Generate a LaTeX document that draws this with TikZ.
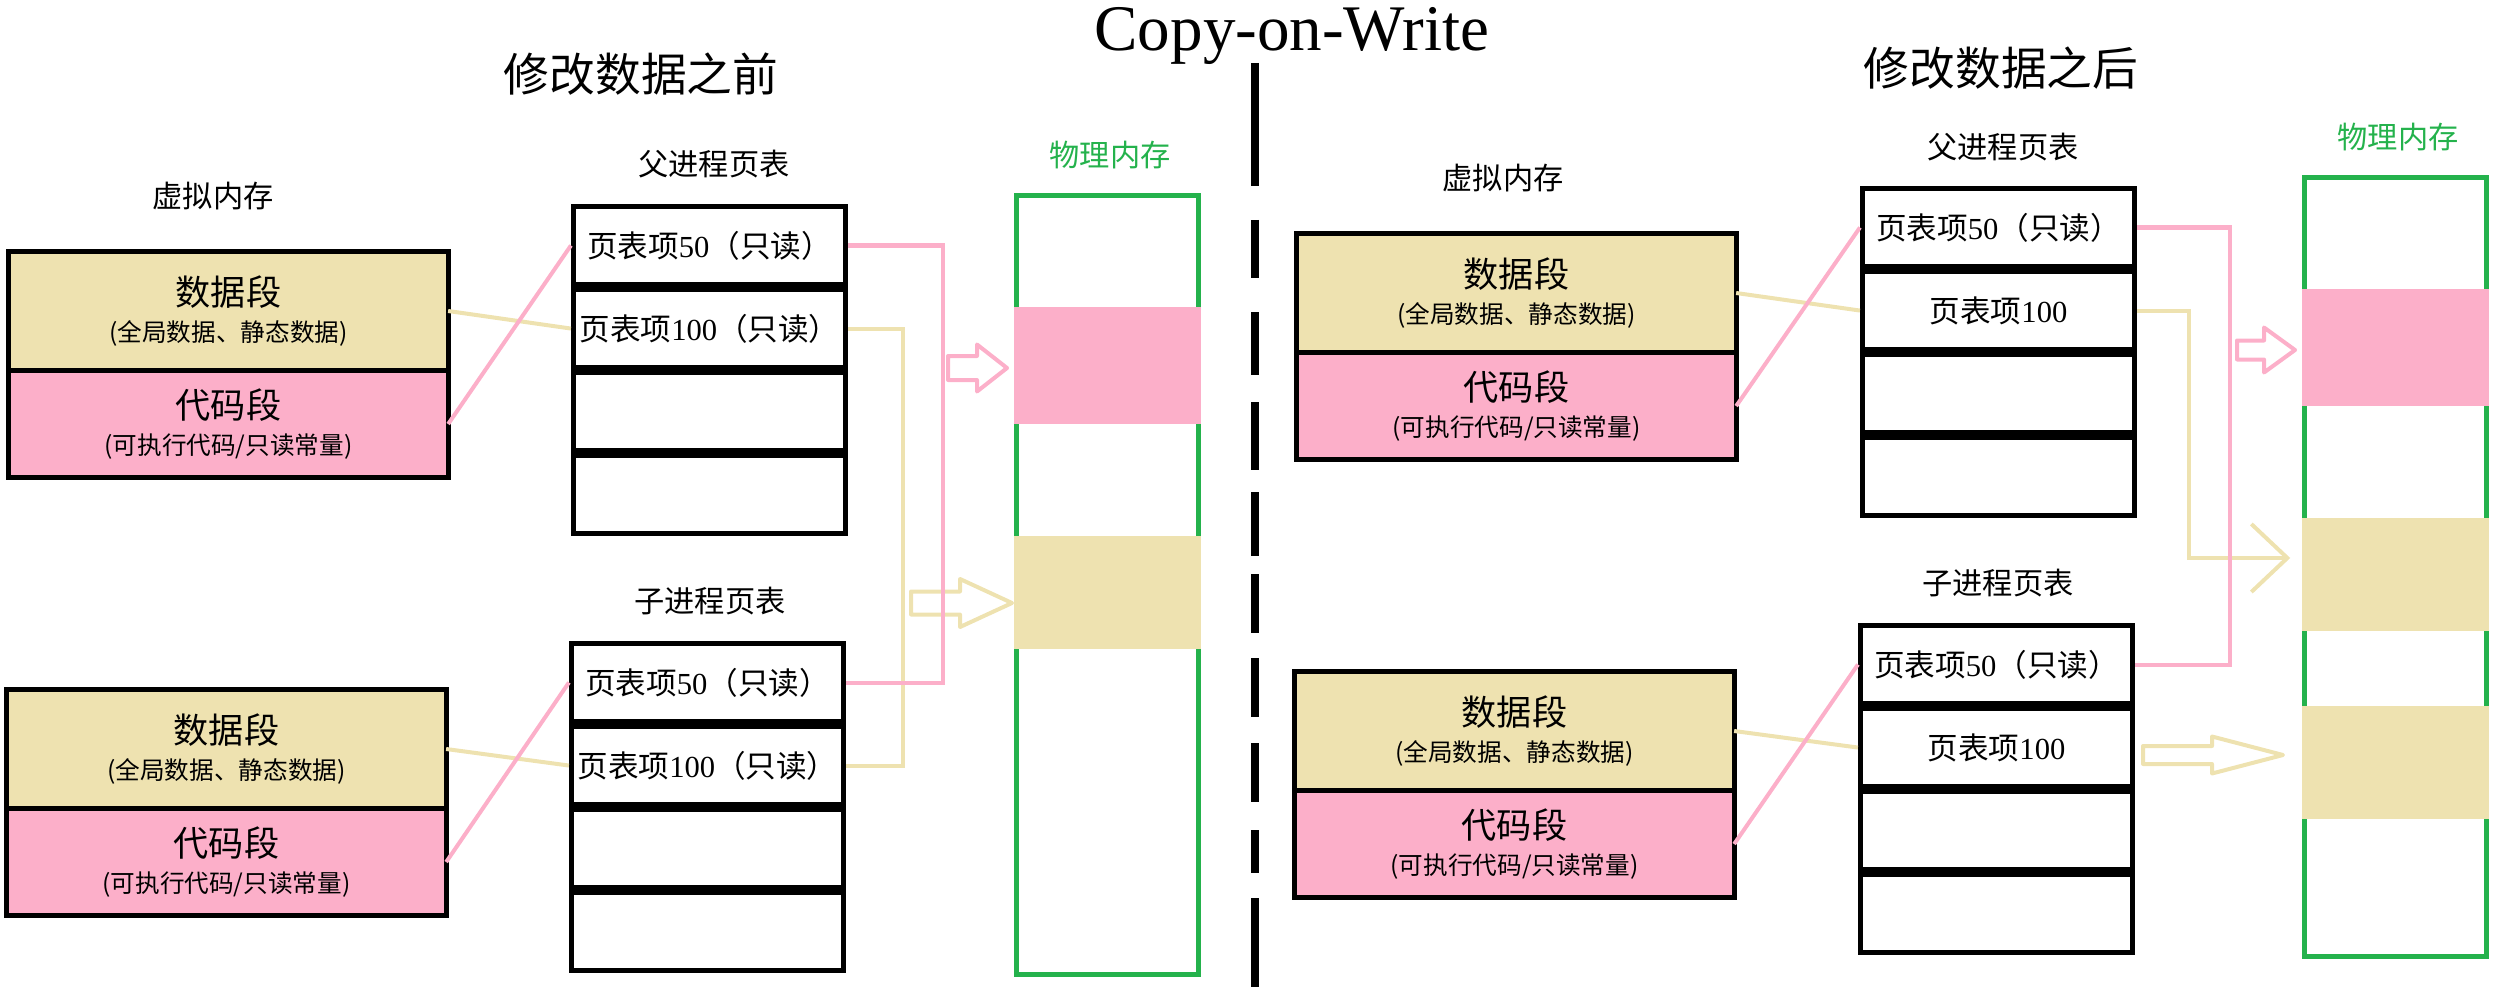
\documentclass[tikz,border=0pt]{standalone}
\usepackage{fontspec}
\setmainfont{Liberation Serif}
\newfontfamily\cjk{Noto Sans CJK SC}
\usepackage{xcolor}
\usepackage{tikz}
\usetikzlibrary{positioning, arrows.meta}

\definecolor{segpink}{RGB}{252,175,201}
\definecolor{segbeige}{RGB}{238,226,176}
\definecolor{memgreen}{RGB}{36,178,76}

% colour, tail x, head x, tip x, centre y, shaft half, head half
\newcommand{\hollowarrow}[7]{%
  \draw[#1, line width=0.4mm, line join=round]
    (#2,#5-#6) -- (#3,#5-#6) -- (#3,#5-#7) -- (#4,#5) -- (#3,#5+#7) -- (#3,#5+#6) -- (#2,#5+#6) -- cycle;}

\begin{document}
\begin{tikzpicture}[
            x=0.01cm, y=-0.01cm,
            seg/.style={rectangle, draw, line width=0.5mm, minimum width=4.39cm, align=center, inner sep=0pt, outer sep=0pt,
              font=\cjk\fontsize{10pt}{10pt}\selectfont},
            datseg/.style={seg, fill=segbeige, minimum height=1.19cm},
            codeseg/.style={seg, fill=segpink, minimum height=1.07cm},
            entry/.style={rectangle, draw, line width=0.5mm, minimum width=2.72cm, minimum height=0.78cm, inner sep=0pt,
              font=\fontsize{8.7pt}{10pt}\selectfont},
            mem/.style={rectangle, draw=memgreen, line width=0.5mm, minimum width=1.82cm, minimum height=7.79cm},
            memblock/.style={rectangle, minimum width=1.87cm, inner sep=0pt},
            sechead/.style={font=\cjk\fontsize{13pt}{15pt}\selectfont},
            tablehead/.style={font=\cjk\fontsize{8.6pt}{10pt}\selectfont},
            memhead/.style={tablehead, text=memgreen},
            pinkline/.style={draw=segpink, line width=0.4mm},
            beigeline/.style={draw=segbeige, line width=0.4mm}
        ]
        \useasboundingbox (0,0) rectangle (2500,988);

        % Titles
        \node[font=\fontsize{18.5pt}{20pt}\selectfont, anchor=base] (title) at (1292,51) {Copy-on-Write};
        \node[sechead] (before) at (641,74) {修改数据之前};
        \node[sechead] (after) at (2001,68) {修改数据之后};

        % Divider
        \foreach \a/\b in {63/186, 220/278, 312/375, 402/470, 492/556, 574/633, 658/717, 743/802, 830/873, 898/987}
          \draw[line width=0.8mm] (1255,\a) -- (1255,\b);

        % Left side - virtual memory
        \node[tablehead] (vmhead1) at (213,196) {虚拟内存};
        \node[datseg] (vm1data) at (228.5,311) {数据段\\[0pt]{\fontsize{7pt}{10pt}\selectfont (全局数据、静态数据)}};
        \node[codeseg, below=0pt of vm1data] (vm1code) {代码段\\[0pt]{\fontsize{7pt}{10pt}\selectfont (可执行代码/只读常量)}};
        \node[datseg] (vm2data) at (226.5,749) {数据段\\[0pt]{\fontsize{7pt}{10pt}\selectfont (全局数据、静态数据)}};
        \node[codeseg, below=0pt of vm2data] (vm2code) {代码段\\[0pt]{\fontsize{7pt}{10pt}\selectfont (可执行代码/只读常量)}};

        % Left side - page tables
        \node[tablehead] (pphead) at (714,164) {父进程页表};
        \node[entry] (pp50) at (709.5,245.5) {{\cjk 页表项}50{\cjk （只读）}};
        \node[entry, below=0pt of pp50] (pp100) {{\cjk 页表项}100{\cjk （只读）}};
        \node[entry, below=0pt of pp100] (pp3) {};
        \node[entry, below=0pt of pp3] (pp4) {};

        \node[tablehead] (cphead) at (710,601) {子进程页表};
        \node[entry] (cp50) at (707.5,682.5) {{\cjk 页表项}50{\cjk （只读）}};
        \node[entry, below=0pt of cp50] (cp100) {{\cjk 页表项}100{\cjk （只读）}};
        \node[entry, below=0pt of cp100] (cp3) {};
        \node[entry, below=0pt of cp3] (cp4) {};

        % Left side - physical memory
        \node[memhead] (pmhead1) at (1110,155) {物理内存};
        \node[mem] (pm1) at (1107.5,585) {};
        \node[memblock, fill=segpink, minimum height=1.17cm] (pm1a) at (1107.5,365.5) {};
        \node[memblock, fill=segbeige, minimum height=1.13cm] (pm1b) at (1107.5,592.5) {};

        % Right side - virtual memory
        \node[tablehead] (vmhead2) at (1503,178) {虚拟内存};
        \node[datseg] (vm3data) at (1516.5,293) {数据段\\[0pt]{\fontsize{7pt}{10pt}\selectfont (全局数据、静态数据)}};
        \node[codeseg, below=0pt of vm3data] (vm3code) {代码段\\[0pt]{\fontsize{7pt}{10pt}\selectfont (可执行代码/只读常量)}};
        \node[datseg] (vm4data) at (1514.5,731) {数据段\\[0pt]{\fontsize{7pt}{10pt}\selectfont (全局数据、静态数据)}};
        \node[codeseg, below=0pt of vm4data] (vm4code) {代码段\\[0pt]{\fontsize{7pt}{10pt}\selectfont (可执行代码/只读常量)}};

        % Right side - page tables
        \node[tablehead] (rphead) at (2003,147) {父进程页表};
        \node[entry] (rp50) at (1998.5,227.5) {{\cjk 页表项}50{\cjk （只读）}};
        \node[entry, below=0pt of rp50] (rp100) {{\cjk 页表项}100};
        \node[entry, below=0pt of rp100] (rp3) {};
        \node[entry, below=0pt of rp3] (rp4) {};

        \node[tablehead] (rchead) at (1998,583) {子进程页表};
        \node[entry] (rc50) at (1996.5,664.5) {{\cjk 页表项}50{\cjk （只读）}};
        \node[entry, below=0pt of rc50] (rc100) {{\cjk 页表项}100};
        \node[entry, below=0pt of rc100] (rc3) {};
        \node[entry, below=0pt of rc3] (rc4) {};

        % Right side - physical memory
        \node[memhead] (pmhead2) at (2398,137) {物理内存};
        \node[mem] (pm2) at (2395.5,567) {};
        \node[memblock, fill=segpink, minimum height=1.17cm] (pm2a) at (2395.5,347.5) {};
        \node[memblock, fill=segbeige, minimum height=1.13cm] (pm2b) at (2395.5,574.5) {};
        \node[memblock, fill=segbeige, minimum height=1.13cm] (pm2c) at (2395.5,762.5) {};

        % Hollow arrows
        \hollowarrow{segpink}{948}{977}{1007}{368}{12}{23.5}
        \hollowarrow{segbeige}{911}{960}{1012}{603}{11.5}{24}
        \hollowarrow{segpink}{2237}{2264}{2295}{350}{9.5}{22.5}
        \hollowarrow{segbeige}{2143}{2212}{2283}{755}{9}{18.5}

        % Mappings
        \draw[beigeline] (vm1data.east) -- (pp100.west);
        \draw[beigeline] (vm2data.east) -- (cp100.west);
        \draw[beigeline] (vm3data.east) -- (rp100.west);
        \draw[beigeline] (vm4data.east) -- (rc100.west);
        \draw[beigeline] (pp100.east) -- ++(55,0) |- (cp100.east);
        \draw[beigeline, -{Straight Barb[length=3.6mm, width=6.8mm]}, shorten >=0.11cm]
          (rp100.east) -- ++(52,0) |- ([yshift=0.165cm]pm2b.west);
        \draw[pinkline] (vm1code.east) -- (pp50.west);
        \draw[pinkline] (vm2code.east) -- (cp50.west);
        \draw[pinkline] (vm3code.east) -- (rp50.west);
        \draw[pinkline] (vm4code.east) -- (rc50.west);
        \draw[pinkline] (pp50.east) -- ++(95,0) |- (cp50.east);
        \draw[pinkline] (rp50.east) -- ++(93,0) |- (rc50.east);

    \end{tikzpicture}
\end{document}
